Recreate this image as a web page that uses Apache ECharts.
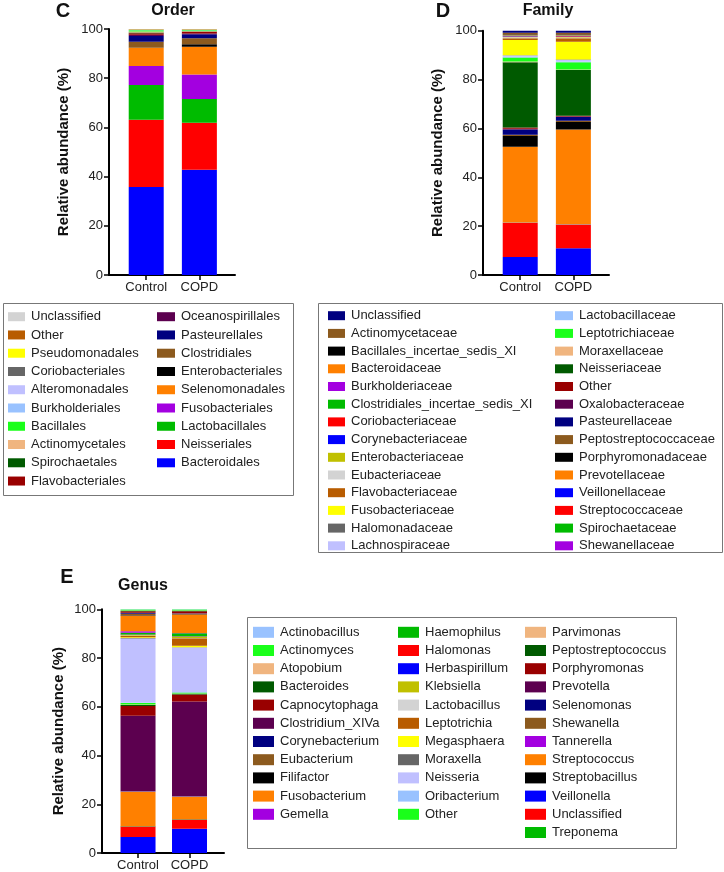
<!DOCTYPE html>
<html>
<head>
<meta charset="utf-8">
<script src="https://cdn.jsdelivr.net/npm/echarts@6/dist/echarts.min.js"></script>
<style>html,body{margin:0;padding:0;background:#fff}#c{width:724px;height:872px}</style>
</head>
<body>
<div id="c"></div>
<script>
// ---------- DATA ----------
const categories = ['Control', 'COPD'];

// Order (stacking order bottom -> top)
const orderNames = ['Bacteroidales','Neisseriales','Lactobacillales','Fusobacteriales','Selenomonadales','Enterobacteriales','Clostridiales','Pasteurellales','Oceanospirillales','Flavobacteriales','Spirochaetales','Actinomycetales','Bacillales','Burkholderiales','Alteromonadales','Coriobacteriales','Pseudomonadales','Other','Unclassified'];
const orderControl = [35.8,27.3,14.1,7.8,7.4,0.0,2.4,2.4,0.5,0.6,0.3,0.4,0.5,0.1,0.1,0.1,0.1,0.1,0.0];
const orderCOPD    = [42.8,19.1,9.6,10.0,11.3,1.0,2.4,1.7,0.3,0.6,0.2,0.2,0.3,0.1,0.1,0.1,0.1,0.1,0.0];
const orderColors  = ['#0000ff','#ff0000','#00bb00','#a300e0','#ff8000','#000000','#8c5a1e','#000080','#5c004f','#990000','#005a00','#f0b57f','#1aff1a','#99c2ff','#c0c0ff','#666666','#ffff00','#b85c00','#d3d3d3'];
const orderLegend1 = ['Unclassified','Other','Pseudomonadales','Coriobacteriales','Alteromonadales','Burkholderiales','Bacillales','Actinomycetales','Spirochaetales','Flavobacteriales'];
const orderLegend2 = ['Oceanospirillales','Pasteurellales','Clostridiales','Enterobacteriales','Selenomonadales','Fusobacteriales','Lactobacillales','Neisseriales','Bacteroidales'];

// Family (stacking order bottom -> top)
const familyNames = ['Veillonellaceae','Streptococcaceae','Spirochaetaceae','Shewanellaceae','Prevotellaceae','Porphyromonadaceae','Peptostreptococcaceae','Pasteurellaceae','Oxalobacteraceae','Other','Neisseriaceae','Moraxellaceae','Leptotrichiaceae','Lactobacillaceae','Lachnospiraceae','Halomonadaceae','Fusobacteriaceae','Flavobacteriaceae','Eubacteriaceae','Enterobacteriaceae','Corynebacteriaceae','Coriobacteriaceae','Clostridiales_incertae_sedis_XI','Burkholderiaceae','Bacteroidaceae','Bacillales_incertae_sedis_XI','Actinomycetaceae','Unclassified'];
const familyControl = [7.4,13.9,0.1,0.1,31.0,4.4,0.5,2.2,0.3,0.5,26.7,0.3,1.6,0.3,0.5,0.1,6.3,0.7,0.4,0.2,0.2,0.1,0.2,0.1,0.3,0.3,0.5,0.8];
const familyCOPD    = [11.0,9.6,0.1,0.1,38.8,3.0,0.5,1.6,0.2,0.3,18.7,0.2,3.0,0.3,0.6,0.2,7.3,1.4,0.3,0.2,0.2,0.2,0.2,0.1,0.3,0.2,0.6,0.8];
const familyColors  = ['#0000ff','#ff0000','#00bb00','#a300e0','#ff8000','#000000','#8c5a1e','#000080','#5c004f','#990000','#005a00','#f0b57f','#1aff1a','#99c2ff','#c0c0ff','#666666','#ffff00','#b85c00','#d3d3d3','#c0c000','#0000ff','#ff0000','#00bb00','#a300e0','#ff8000','#000000','#8c5a1e','#000080'];
const familyLegend1 = ['Unclassified','Actinomycetaceae','Bacillales_incertae_sedis_XI','Bacteroidaceae','Burkholderiaceae','Clostridiales_incertae_sedis_XI','Coriobacteriaceae','Corynebacteriaceae','Enterobacteriaceae','Eubacteriaceae','Flavobacteriaceae','Fusobacteriaceae','Halomonadaceae','Lachnospiraceae'];
const familyLegend2 = ['Lactobacillaceae','Leptotrichiaceae','Moraxellaceae','Neisseriaceae','Other','Oxalobacteraceae','Pasteurellaceae','Peptostreptococcaceae','Porphyromonadaceae','Prevotellaceae','Veillonellaceae','Streptococcaceae','Spirochaetaceae','Shewanellaceae'];

// Genus (stacking order bottom -> top)
const genusNames = ['Veillonella','Unclassified','Treponema','Streptobacillus','Streptococcus','Tannerella','Shewanella','Selenomonas','Prevotella','Porphyromonas','Peptostreptococcus','Parvimonas','Other','Oribacterium','Neisseria','Moraxella','Megasphaera','Leptotrichia','Lactobacillus','Klebsiella','Herbaspirillum','Halomonas','Haemophilus','Gemella','Fusobacterium','Filifactor','Eubacterium','Corynebacterium','Clostridium_XIVa','Capnocytophaga','Bacteroides','Atopobium','Actinomyces','Actinobacillus'];
const genusControl = [6.6,4.2,0.1,0.1,14.1,0.1,0.1,0.1,30.9,4.0,0.4,0.2,0.7,0.2,26.2,0.2,0.3,0.6,0.1,0.3,0.1,0.1,0.7,0.6,6.4,0.2,0.6,0.3,0.1,0.6,0.2,0.1,0.4,0.1];
const genusCOPD    = [10.0,3.6,0.1,0.1,9.3,0.1,0.1,0.1,38.8,2.8,0.3,0.1,0.5,0.2,18.2,0.1,0.6,3.1,0.1,0.5,0.1,0.1,1.3,0.1,7.4,0.1,0.4,0.1,0.1,0.8,0.2,0.1,0.4,0.1];
const genusColors  = ['#0000ff','#ff0000','#00bb00','#000000','#ff8000','#a300e0','#8c5a1e','#000080','#5c004f','#990000','#005a00','#f0b57f','#1aff1a','#99c2ff','#c0c0ff','#666666','#ffff00','#b85c00','#d3d3d3','#c0c000','#0000ff','#ff0000','#00bb00','#a300e0','#ff8000','#000000','#8c5a1e','#000080','#5c004f','#990000','#005a00','#f0b57f','#1aff1a','#99c2ff'];
const genusLegend1 = ['Actinobacillus','Actinomyces','Atopobium','Bacteroides','Capnocytophaga','Clostridium_XIVa','Corynebacterium','Eubacterium','Filifactor','Fusobacterium','Gemella'];
const genusLegend2 = ['Haemophilus','Halomonas','Herbaspirillum','Klebsiella','Lactobacillus','Leptotrichia','Megasphaera','Moraxella','Neisseria','Oribacterium','Other'];
const genusLegend3 = ['Parvimonas','Peptostreptococcus','Porphyromonas','Prevotella','Selenomonas','Shewanella','Tannerella','Streptococcus','Streptobacillus','Veillonella','Unclassified','Treponema'];

// ---------- CHART ----------
const FONT = '"Liberation Sans", Arial, Helvetica, sans-serif';
const chart = echarts.init(document.getElementById('c'), null, {renderer: 'canvas'});

const charts = [
  {key:'order', names:orderNames, ctrl:orderControl, copd:orderCOPD, colors:orderColors,
   grid:{left:109, top:29, width:126, height:246}, nameGap:38},
  {key:'family', names:familyNames, ctrl:familyControl, copd:familyCOPD, colors:familyColors,
   grid:{left:483, top:30.7, width:126, height:244.3}, nameGap:38},
  {key:'genus', names:genusNames, ctrl:genusControl, copd:genusCOPD, colors:genusColors,
   grid:{left:102, top:609.3, width:122, height:244}, nameGap:36}
];

const grids = [], xAxes = [], yAxes = [], series = [];
charts.forEach((c, idx) => {
  grids.push(Object.assign({containLabel:false}, c.grid));
  xAxes.push({
    gridIndex: idx, type: 'value', min: 0.3, max: 2.67,
    splitLine: {show: false},
    axisLine: {show: true, onZero: false, lineStyle: {color: '#000', width: 2}},
    axisTick: {show: true, customValues: [1, 2], length: 5, lineStyle: {color: '#000', width: 1.5}},
    axisLabel: {customValues: [1, 2], formatter: v => categories[Math.round(v) - 1] || '',
      fontSize: 13, color: '#222', margin: 6, fontFamily: FONT}
  });
  yAxes.push({
    gridIndex: idx, type: 'value', min: 0, max: 100, interval: 20,
    splitLine: {show: false},
    axisLine: {show: true, onZero: false, lineStyle: {color: '#000', width: 2}},
    axisTick: {show: true, length: 5, lineStyle: {color: '#000', width: 1.5}},
    axisLabel: {fontSize: 13, color: '#222', margin: 6, fontFamily: FONT},
    name: 'Relative abundance (%)', nameLocation: 'middle', nameGap: c.nameGap, nameRotate: 90,
    nameTextStyle: {fontSize: 15, fontWeight: 'bold', color: '#111', fontFamily: FONT}
  });
  c.names.forEach((n, i) => {
    series.push({
      type: 'bar', name: c.key + '|' + n, xAxisIndex: idx, yAxisIndex: idx, stack: c.key,
      barWidth: 35,
      // value first so that it is the stacked dimension; position second
      data: categories.map((cat, j) => [(j === 0 ? c.ctrl : c.copd)[i], j + 1]),
      encode: {x: 1, y: 0},
      itemStyle: {color: c.colors[i]},
      emphasis: {disabled: true}, silent: true
    });
  });
});

function legendCol(key, names, left, top, pitch, iw, ih) {
  const lh = 14;
  return {
    orient: 'vertical', left: left, top: top, padding: 0,
    itemWidth: iw, itemHeight: ih, itemGap: pitch - lh, icon: 'rect',
    selectedMode: false, itemStyle: {borderWidth: 0},
    data: names.map(n => key + '|' + n),
    formatter: n => n.split('|')[1],
    textStyle: {fontSize: 13, lineHeight: lh, color: '#222', fontFamily: FONT, padding: [0, 0, 0, 1]}
  };
}

const legends = [
  legendCol('order', orderLegend1, 8, 309.7, 18.26, 17, 9),
  legendCol('order', orderLegend2, 157, 309.7, 18.26, 18, 9),
  legendCol('family', familyLegend1, 328, 308.7, 17.7, 17, 9),
  legendCol('family', familyLegend2, 555, 308.7, 17.7, 18, 9),
  legendCol('genus', genusLegend1, 253, 625.3, 18.2, 21, 11),
  legendCol('genus', genusLegend2, 398, 625.3, 18.2, 21, 11),
  legendCol('genus', genusLegend3, 525, 625.3, 18.2, 21, 11)
];

function txt(t, x, y, size) {
  return {type: 'text', silent: true, style: {text: t, x: x, y: y, textAlign: 'center', textVerticalAlign: 'middle',
    font: 'bold ' + size + 'px ' + FONT, fill: '#111'}};
}
function box(x1, y1, x2, y2) {
  return {type: 'rect', silent: true, shape: {x: x1 + 0.5, y: y1 + 0.5, width: x2 - x1, height: y2 - y1},
    style: {fill: 'none', stroke: '#777', lineWidth: 1}};
}

const graphics = [
  txt('C', 63, 11, 20), txt('Order', 173, 11, 16),
  txt('D', 443, 11, 20), txt('Family', 548, 11, 16),
  txt('E', 67, 577, 20), txt('Genus', 143, 586, 16),
  box(3, 303, 293, 495), box(318, 303, 722, 552), box(247, 617, 676, 848)
];

chart.setOption({
  animation: false,
  backgroundColor: '#fff',
  grid: grids, xAxis: xAxes, yAxis: yAxes, series: series,
  legend: legends, graphic: graphics, tooltip: {show: false}
});
</script>
</body>
</html>
